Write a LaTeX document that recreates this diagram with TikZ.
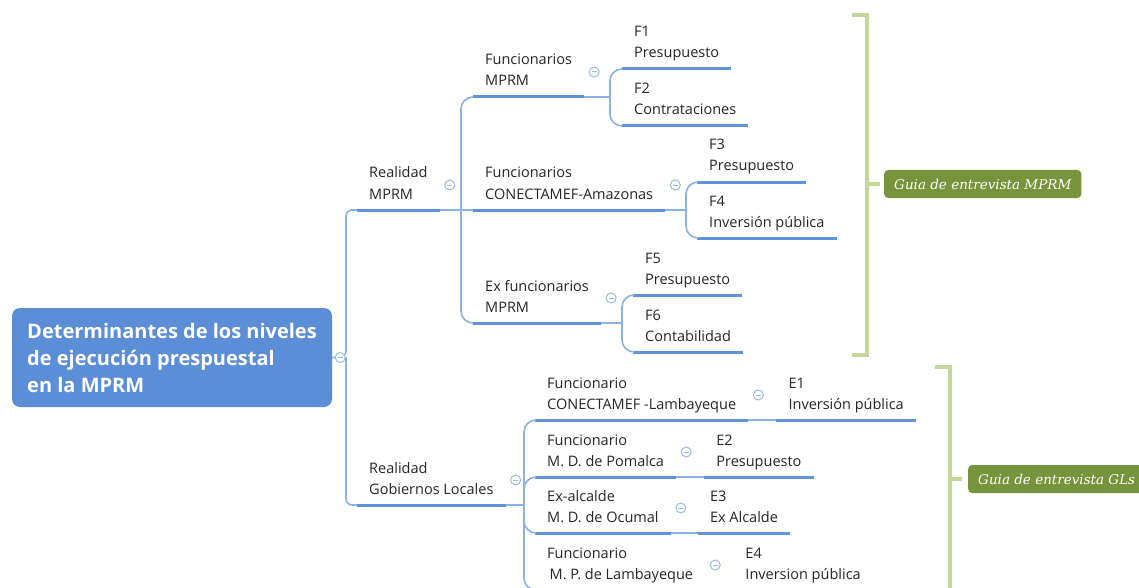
\documentclass[tikz,border=0pt]{standalone}
\usepackage{fontspec}
\setmainfont{Open Sans}
\newfontfamily\guiafont{DejaVu Serif}
\usetikzlibrary{positioning}

\definecolor{mmblue}{HTML}{5B8ED6}
\definecolor{mmline}{HTML}{5F93DA}
\definecolor{mmthin}{HTML}{8CB2E4}
\definecolor{mmknob}{HTML}{9BBBE6}
\definecolor{mmtext}{HTML}{262626}
\definecolor{guiagreen}{HTML}{77933C}
\definecolor{bracketgreen}{HTML}{C4D79B}

\newcommand\topicfont{\fontsize{14.5}{21}\selectfont}
\newcommand\rootfont{\fontsize{20}{27}\selectfont\bfseries}

\tikzset{
  rootbox/.style={rounded corners=8pt, fill=mmblue, text=white, font=\rootfont,
    align=left, minimum width=320pt, minimum height=99pt},
  topic/.style={anchor=south west, align=left, inner xsep=12pt, inner ysep=4.5pt,
    font=\topicfont, text=mmtext,
    execute at begin node=\strut, execute at end node=\strut},
  uline/.style={draw=mmline, line width=3pt},
  conn/.style={draw=mmthin, line width=1.6pt, rounded corners=12pt},
  knob/.style={circle, draw=mmknob, fill=white, line width=1pt, minimum size=10pt,
    inner sep=0pt,
    path picture={\draw[mmknob, line width=1pt]
      ([xshift=-2.5pt]path picture bounding box.center) --
      ([xshift=2.5pt]path picture bounding box.center);}},
  guia/.style={anchor=west, rounded corners=4pt, fill=guiagreen, text=white,
    font=\guiafont\itshape\fontsize{13.5}{16}\selectfont,
    inner xsep=10pt, minimum height=28pt},
  bracket/.style={draw=bracketgreen, line width=4pt},
}

\begin{document}
\begin{tikzpicture}[x=1pt, y=-1pt]
  \useasboundingbox (0,0) rectangle (1139,588);
  \fill[white] (0,0) rectangle (1139,588);
  \clip (0,0) rectangle (1139,588);

  % Central topic
  \node[rootbox] (root) at (172,357.5)
    {Determinantes de los niveles\\de ejecución prespuestal\\en la MPRM};
  \coordinate (trunk) at (346,357);

  % Realidad MPRM branch
  \node[topic] (rmprm) at (357,210) {Realidad\\MPRM};
  \coordinate (jm) at (461,210);
  \node[topic] (fmprm) at (473,97) {Funcionarios\\MPRM};
  \node[topic] (fcon) at (473,210) {Funcionarios\\CONECTAMEF-Amazonas};
  \node[topic] (fex) at (473,323) {Ex funcionarios\\MPRM};
  \coordinate (j1) at (610,97);
  \node[topic] (f1) at (622,69) {F1\\Presupuesto};
  \node[topic] (f2) at (622,126) {F2\\Contrataciones};
  \coordinate (j2) at (686,210);
  \node[topic] (f3) at (697,182) {F3\\Presupuesto};
  \node[topic] (f4) at (697,238) {F4\\Inversión pública};
  \coordinate (j3) at (622,323);
  \node[topic] (f5) at (633,295) {F5\\Presupuesto};
  \node[topic] (f6) at (633,352) {F6\\Contabilidad};

  % Realidad Gobiernos Locales branch
  \node[topic] (rgl) at (357,505) {Realidad\\Gobiernos Locales};
  \coordinate (jg) at (524,505);
  \node[topic] (gcl) at (535,420) {Funcionario\\CONECTAMEF -Lambayeque};
  \node[topic] (gpo) at (535,477) {Funcionario\\M. D. de Pomalca};
  \node[topic] (goc) at (535,533) {Ex-alcalde\\M. D. de Ocumal};
  \node[topic] (gla) at (535,590) {Funcionario\\\hspace*{2.5pt}M. P. de Lambayeque};
  \node[right=28pt of gcl.south east, topic] (e1) {E1\\Inversión pública};
  \node[right=28pt of gpo.south east, topic] (e2) {E2\\Presupuesto};
  \node[right=27pt of goc.south east, topic] (e3) {E3\\Ex Alcalde};
  \node[right=28pt of gla.south east, topic] (e4) {E4\\Inversion pública};

  % underlines
  \foreach \n in {rmprm,fmprm,fcon,fex,f1,f2,f3,f4,f5,f6,rgl,gcl,gpo,goc,gla,e1,e2,e3,e4}
    \draw[uline] (\n.south west) -- (\n.south east);

  % connectors
  \draw[conn, rounded corners=6pt] (root.east) -- (trunk) |- (rmprm.south west);
  \draw[conn, rounded corners=6pt] (trunk) |- (rgl.south west);
  \draw[conn] (rmprm.south east) -- (jm);
  \draw[conn] (jm) |- (fmprm.south west);
  \draw[conn] (jm) -- (fcon.south west);
  \draw[conn] (jm) |- (fex.south west);
  \draw[conn] (fmprm.south east) -- (j1);
  \draw[conn] (j1) |- (f1.south west);
  \draw[conn] (j1) |- (f2.south west);
  \draw[conn] (fcon.south east) -- (j2);
  \draw[conn] (j2) |- (f3.south west);
  \draw[conn] (j2) |- (f4.south west);
  \draw[conn] (fex.south east) -- (j3);
  \draw[conn] (j3) |- (f5.south west);
  \draw[conn] (j3) |- (f6.south west);
  \draw[conn] (rgl.south east) -- (jg);
  \draw[conn] (jg) |- (gcl.south west);
  \draw[conn] (jg) |- (gpo.south west);
  \draw[conn] (jg) |- (goc.south west);
  \draw[conn] (jg) |- (gla.south west);
  \draw[conn] (gcl.south east) -- (e1.south west);
  \draw[conn] (gpo.south east) -- (e2.south west);
  \draw[conn] (goc.south east) -- (e3.south west);
  \draw[conn] (gla.south east) -- (e4.south west);

  % collapse knobs
  \node[knob] (k0) at ([xshift=8pt]root.east) {};
  \foreach \n in {rmprm,fmprm,fcon,fex,rgl,gcl,gpo,goc,gla}
    \node[knob] (k\n) at ([xshift=10pt,yshift=25pt]\n.south east) {};

  % interview guides
  \draw[bracket] (852,15) -- (867,15) -- (867,355) -- (852,355);
  \coordinate (b1) at (867,184);
  \node[guia] (guia1) at (884,184) {Guia de entrevista MPRM};
  \draw[bracket] (b1) -- ([xshift=-4pt]guia1.west);
  \draw[bracket] (935,367) -- (950,367) -- (950,600);
  \coordinate (b2) at (950,479);
  \node[guia] (guia2) at (968,479) {Guia de entrevista GLs};
  \draw[bracket] (b2) -- ([xshift=-6pt]guia2.west);
\end{tikzpicture}
\end{document}
